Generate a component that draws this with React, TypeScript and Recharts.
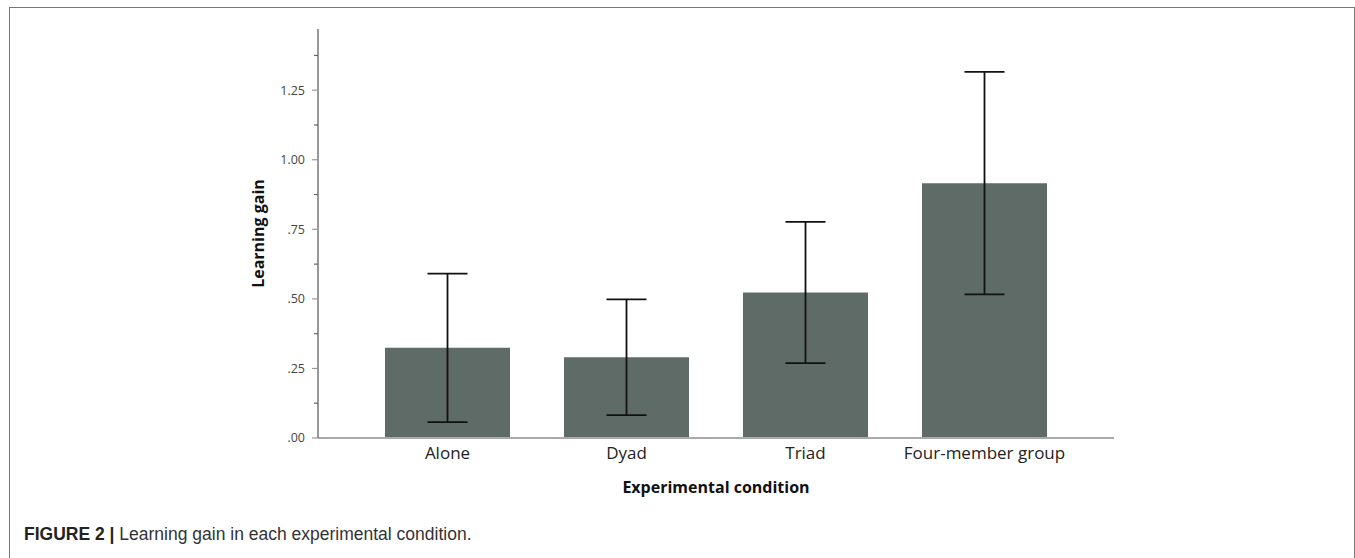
import { BarChart, Bar, XAxis, YAxis, ErrorBar } from 'recharts';

const conditions = ['Alone', 'Dyad', 'Triad', 'Four-member group'];
const meanGain = [0.324, 0.29, 0.523, 0.916];
const ciHalfWidth = [0.267, 0.208, 0.254, 0.4];
const yTicks = [0, 0.125, 0.25, 0.375, 0.5, 0.625, 0.75, 0.875, 1, 1.125, 1.25, 1.375];
const majorTickLabels = ['.00', '.25', '.50', '.75', '1.00', '1.25'];

const data = conditions.map((name, i) => ({ name, gain: meanGain[i], err: ciHalfWidth[i] }));

const TICK_SIZE = 6;
const TICK_MARGIN = 7;
const FONT = '"Open Sans", "DejaVu Sans", sans-serif';

const YTick = ({ x, y, payload }: any) => {
    const v = payload.value;
    const idx = Math.round(v / 0.25);
    const major = Math.abs(v - idx * 0.25) < 1e-6;
    const axisX = x + TICK_SIZE + TICK_MARGIN;
    return (
        <g>
            <line x1={axisX - (major ? 6 : 4)} x2={axisX} y1={y} y2={y} stroke={major ? '#999' : '#666'} strokeWidth={1.2} />
            {major && (
                <text x={x} y={y} dy="0.35em" textAnchor="end" fontSize={12.5} fill="#444" fontFamily={FONT}>
                    {majorTickLabels[idx]}
                </text>
            )}
        </g>
    );
};

const App = () => {
    return (
        <div
            style={{
                position: 'fixed',
                left: 9,
                top: 7,
                width: 1344,
                height: 560,
                borderTop: '1px solid #777',
                borderLeft: '1px solid #777',
                borderRight: '1px solid #777',
                background: '#fff',
            }}
        >
            <BarChart
                width={1344}
                height={540}
                data={data}
                margin={{ top: 21, right: 240, left: 238, bottom: 50 }}
            >
                <XAxis
                    dataKey="name"
                    height={60}
                    padding={{ left: 40, right: 40 }}
                    axisLine={{ stroke: '#aaa', strokeWidth: 2 }}
                    tickLine={false}
                    tickSize={0}
                    tickMargin={9}
                    tick={{ fill: '#222', fontSize: 17, fontFamily: FONT }}
                    label={(props: any) => {
                        const vb = props.viewBox;
                        return (
                            <text
                                x={vb.x + vb.width / 2}
                                y={vb.y + 55}
                                textAnchor="middle"
                                fontSize={16}
                                fontWeight="bold"
                                fill="#111"
                                fontFamily={FONT}
                            >
                                Experimental condition
                            </text>
                        );
                    }}
                />
                <YAxis
                    width={70}
                    domain={[0, 1.47]}
                    ticks={yTicks}
                    interval={0}
                    allowDataOverflow
                    axisLine={{ stroke: '#777', strokeWidth: 1.5 }}
                    tickLine={false}
                    tickSize={TICK_SIZE}
                    tickMargin={TICK_MARGIN}
                    tick={<YTick />}
                    label={(props: any) => {
                        const vb = props.viewBox;
                        const cx = vb.x + 10;
                        const cy = vb.y + vb.height / 2;
                        return (
                            <text
                                x={cx}
                                y={cy}
                                transform={`rotate(-90 ${cx} ${cy})`}
                                textAnchor="middle"
                                dominantBaseline="central"
                                fontSize={16}
                                fontWeight="bold"
                                fill="#111"
                                fontFamily={FONT}
                            >
                                Learning gain
                            </text>
                        );
                    }}
                />
                <Bar dataKey="gain" fill="#5f6b66" barSize={125} isAnimationActive={false}>
                    <ErrorBar dataKey="err" width={20} stroke="#111" strokeWidth={1.8} isAnimationActive={false} />
                </Bar>
            </BarChart>
            <div
                style={{
                    position: 'absolute',
                    left: 14,
                    top: 516,
                    fontFamily: '"Liberation Sans", Arial, sans-serif',
                    fontSize: 17.5,
                    lineHeight: '20px',
                    color: '#333',
                    whiteSpace: 'nowrap',
                }}
            >
                <span style={{ fontWeight: 'bold', color: '#222' }}>FIGURE 2 | </span>
                Learning gain in each experimental condition.
            </div>
        </div>
    );
};

export default App;
